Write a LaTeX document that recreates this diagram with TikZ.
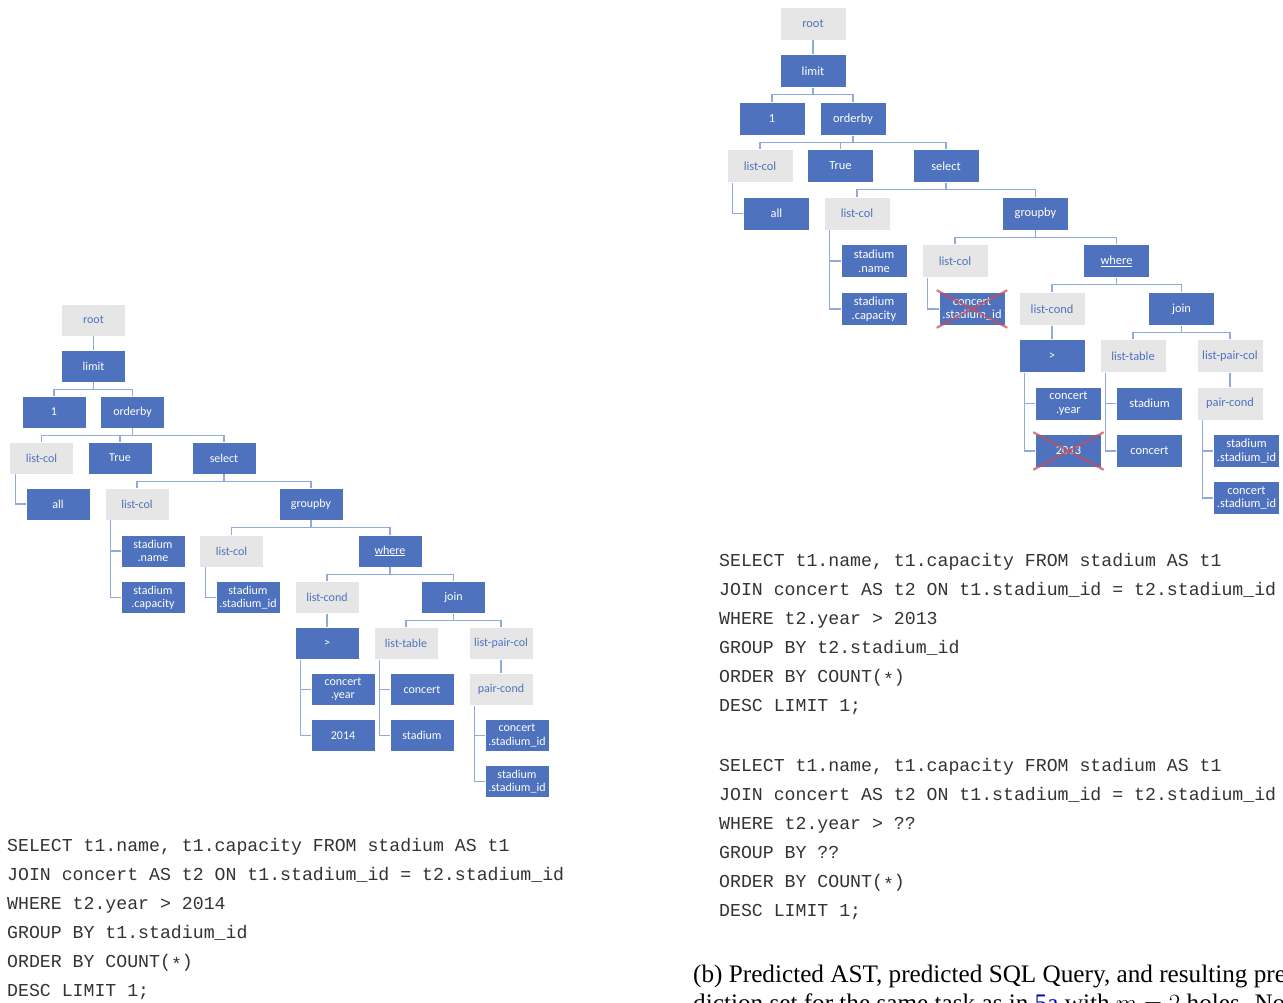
\documentclass[tikz,border=0pt]{standalone}
\usepackage{fontspec}
\setmainfont{Carlito}
\setmonofont{Liberation Mono}
\newfontfamily\capfont{Liberation Serif}
\usepackage{tikz}

\definecolor{boxblue}{RGB}{79,114,190}
\definecolor{boxgray}{RGB}{230,230,230}
\definecolor{linkblue}{RGB}{143,170,220}
\definecolor{crossred}{RGB}{196,80,90}
\definecolor{refblue}{RGB}{0,0,160}

\begin{document}
\begin{tikzpicture}[x=1pt,y=-1pt,blk/.style={rectangle,fill=boxblue,draw=white,line width=0.6pt,text=white,inner sep=0pt,align=center},gry/.style={blk,fill=boxgray,text=boxblue},
    lefttree/.style={every node/.append style={minimum width=64pt,minimum height=32pt,font=\fontsize{12}{13.3}\selectfont}},
    righttree/.style={every node/.append style={minimum width=66pt,minimum height=33pt,font=\fontsize{12.4}{13.7}\selectfont}},
    link/.style={draw=linkblue,line width=1.3pt},cross/.style={draw=crossred,opacity=0.75,line width=2.2pt},
    sqlline/.style={anchor=base west,inner sep=0pt,text=black!80,font=\fontsize{18.2}{29}\selectfont\ttfamily}]

  \useasboundingbox (0,0) rectangle (1283,1003);

  \begin{scope}[lefttree]
    \node [gry] (lroot) at (93.5,320) {root};
    \node [blk] (llimit) at (93.5,366) {limit};
    \node [blk] (lone) at (54,412) {1};
    \node [blk] (lorder) at (132.5,412) {orderby};
    \node [gry] (llc) at (41.5,458) {list-col};
    \node [blk] (ltrue) at (120,458) {True};
    \node [blk] (lsel) at (224,458) {select};
    \node [blk] (lall) at (58,504) {all};
    \node [gry] (llc2) at (137,504) {list-col};
    \node [blk] (lgroup) at (311,504) {groupby};
    \node [blk] (lname) at (153,551) {stadium\\.name};
    \node [gry] (llc3) at (231.5,551) {list-col};
    \node [blk] (lwhere) at (390,551) {\underline{where}};
    \node [blk] (lcap) at (153,597.5) {stadium\\.capacity};
    \node [blk] (lsid) at (248,597.5) {stadium\\.stadium\_id};
    \node [gry] (lcond) at (327,597.5) {list-cond};
    \node [blk] (ljoin) at (453.5,597.5) {join};
    \node [blk] (lgt) at (327,643.5) {>};
    \node [gry] (ltab) at (406,643.5) {list-table};
    \node [gry] (lpair) at (501,643.5) {list-pair-col};
    \node [blk] (lyear) at (343,689.5) {concert\\.year};
    \node [blk] (lconc) at (422,689.5) {concert};
    \node [gry] (lpc) at (501,689.5) {pair-cond};
    \node [blk] (lval) at (343,735.5) {2014};
    \node [blk] (lstad) at (422,735.5) {stadium};
    \node [blk] (lcsid) at (517,735.5) {concert\\.stadium\_id};
    \node [blk] (lssid) at (517,781.5) {stadium\\.stadium\_id};
  \end{scope}

  \begin{scope}[righttree]
    \node [gry] (rroot) at (813,23.5) {root};
    \node [blk] (rlimit) at (813,71) {limit};
    \node [blk] (rone) at (772,119) {1};
    \node [blk] (rorder) at (853,119) {orderby};
    \node [gry] (rlc) at (760,166) {list-col};
    \node [blk] (rtrue) at (840.5,166) {True};
    \node [blk] (rsel) at (946,166) {select};
    \node [blk] (rall) at (776.5,213.5) {all};
    \node [gry] (rlc2) at (857,213.5) {list-col};
    \node [blk] (rgroup) at (1035.5,213.5) {groupby};
    \node [blk] (rname) at (874,261) {stadium\\.name};
    \node [gry] (rlc3) at (955,261) {list-col};
    \node [blk] (rwhere) at (1116.5,261) {\underline{where}};
    \node [blk] (rcap) at (874,309) {stadium\\.capacity};
    \node [blk] (rcsid) at (972,309) {concert\\.stadium\_id};
    \node [gry] (rcond) at (1052,309) {list-cond};
    \node [blk] (rjoin) at (1181.5,309) {join};
    \node [blk] (rgt) at (1052,356) {>};
    \node [gry] (rtab) at (1133,356) {list-table};
    \node [gry] (rpair) at (1230,356) {list-pair-col};
    \node [blk] (ryear) at (1068.5,403.5) {concert\\.year};
    \node [blk] (rstad) at (1149.5,403.5) {stadium};
    \node [gry] (rpc) at (1230,403.5) {pair-cond};
    \node [blk] (rval) at (1068.5,451) {2013};
    \node [blk] (rconc) at (1149.5,451) {concert};
    \node [blk] (rssid) at (1246.5,451) {stadium\\.stadium\_id};
    \node [blk] (rcsid2) at (1246.5,498) {concert\\.stadium\_id};
  \end{scope}

  \foreach \p/\c in {lroot/llimit,lcond/lgt,lpair/lpc,rroot/rlimit,rcond/rgt,rpair/rpc}
    \draw [link] (\p) -- (\c);
  \foreach \p/\c in {llimit/lone,llimit/lorder,lorder/llc,lorder/ltrue,lorder/lsel,lsel/llc2,lsel/lgroup,lgroup/llc3,lgroup/lwhere,lwhere/lcond,lwhere/ljoin,ljoin/ltab,ljoin/lpair,
      rlimit/rone,rlimit/rorder,rorder/rlc,rorder/rtrue,rorder/rsel,rsel/rlc2,rsel/rgroup,rgroup/rlc3,rgroup/rwhere,rwhere/rcond,rwhere/rjoin,rjoin/rtab,rjoin/rpair}
    \draw [link] (\p.south) -- ++(0,7) -| (\c.north);
  \foreach \p/\c in {llc/lall,llc2/lname,llc2/lcap,llc3/lsid,lgt/lyear,lgt/lval,ltab/lconc,ltab/lstad,lpc/lcsid,lpc/lssid,
      rlc/rall,rlc2/rname,rlc2/rcap,rlc3/rcsid,rgt/ryear,rgt/rval,rtab/rstad,rtab/rconc,rpc/rssid,rpc/rcsid2}
    \draw [link] ([xshift=6pt]\p.south west) |- (\c.west);

  \foreach \n in {rcsid,rval} {
    \draw [cross] ([shift={(-2,-2)}]\n.north west) -- ([shift={(2,2)}]\n.south east);
    \draw [cross] ([shift={(2,-2)}]\n.north east) -- ([shift={(-2,2)}]\n.south west);
  }

  \foreach \t [count=\i] in {{SELECT t1.name, t1.capacity FROM stadium AS t1},{JOIN concert AS t2 ON t1.stadium\_id = t2.stadium\_id},{WHERE t2.year > 2014},{GROUP BY t1.stadium\_id},{ORDER BY COUNT(\raisebox{-0.35ex}{*})},{DESC LIMIT 1;}}
    \node [sqlline] (lsql\i) at (7,{822+29*\i}) {\t};
  \foreach \t [count=\i] in {{SELECT t1.name, t1.capacity FROM stadium AS t1},{JOIN concert AS t2 ON t1.stadium\_id = t2.stadium\_id},{WHERE t2.year > 2013},{GROUP BY t2.stadium\_id},{ORDER BY COUNT(\raisebox{-0.35ex}{*})},{DESC LIMIT 1;}}
    \node [sqlline] (rsql\i) at (719,{537+29*\i}) {\t};
  \foreach \t [count=\i] in {{SELECT t1.name, t1.capacity FROM stadium AS t1},{JOIN concert AS t2 ON t1.stadium\_id = t2.stadium\_id},{WHERE t2.year > ??},{GROUP BY ??},{ORDER BY COUNT(\raisebox{-0.35ex}{*})},{DESC LIMIT 1;}}
    \node [sqlline] (hsql\i) at (719,{742+29*\i}) {\t};

  \node [anchor=base west,inner sep=0pt,font=\capfont\fontsize{25.2}{28}\selectfont] (cap1) at (693,982) {(b) Predicted AST, predicted SQL Query, and resulting pre-};
  \node [anchor=base west,inner sep=0pt,font=\capfont\fontsize{25.2}{28}\selectfont] (cap2) at (693,1011) {diction set for the same task as in \textcolor{refblue}{5a} with $m=2$ holes. Note};

\end{tikzpicture}
\end{document}
